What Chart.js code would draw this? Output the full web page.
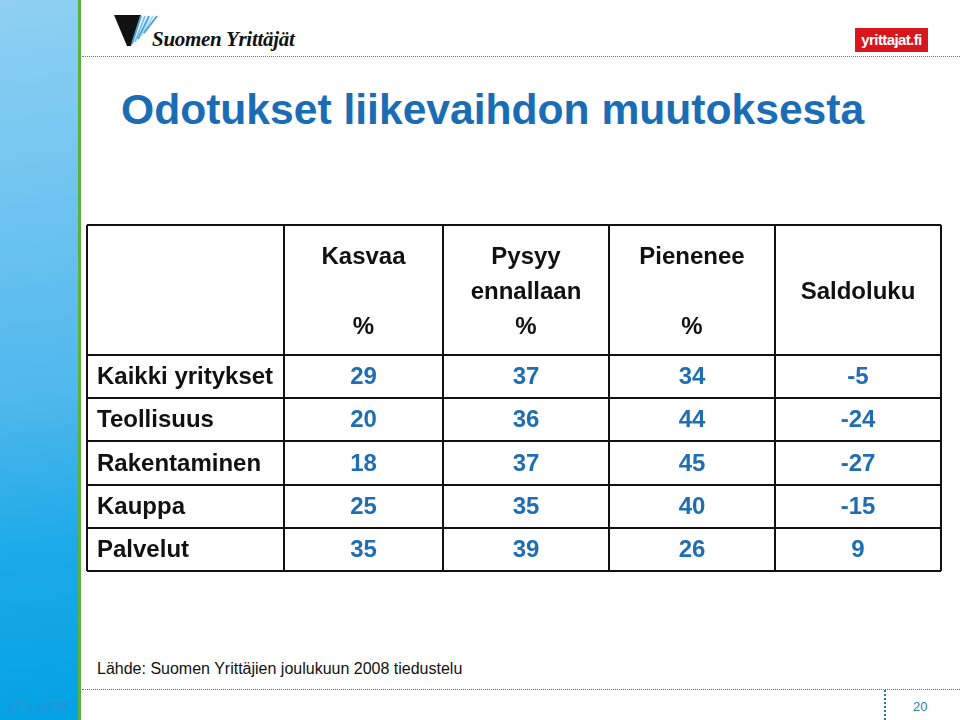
<!DOCTYPE html>
<html>
<head>
<meta charset="utf-8">
<script src="https://cdn.jsdelivr.net/npm/chart.js@4.4.1/dist/chart.umd.min.js"></script>
<style>
  html,body{margin:0;padding:0;background:#fff;}
  #slide{position:relative;width:960px;height:720px;overflow:hidden;background:#fff;font-family:"Liberation Sans",Arial,sans-serif;}
  #bar{position:absolute;left:0;top:0;width:78px;height:720px;
       background:linear-gradient(172deg,#8fd0f3 0%,#6cc3f0 30%,#4fb8ec 55%,#1eaae8 75%,#02a2e4 100%);}
  #green{position:absolute;left:78px;top:0;width:3px;height:720px;background:#5db13a;}
  .hdot{position:absolute;height:0;border-top:1px dotted #2b8db8;}
  .vdot{position:absolute;width:0;border-left:2px dotted #2f7898;}
  #title{position:absolute;left:121px;top:85px;font-size:42.6px;font-weight:bold;color:#1a6db4;white-space:nowrap;}
  #logoText{position:absolute;left:152px;top:27px;font-family:"Liberation Serif","Times New Roman",serif;font-style:italic;font-weight:bold;font-size:21px;color:#111;white-space:nowrap;letter-spacing:-0.3px;}
  #redlogo{position:absolute;left:855px;top:28px;width:73px;height:24px;background:#d9161c;color:#fff;font-weight:bold;font-size:15px;line-height:24px;text-align:center;letter-spacing:-0.6px;}
  #source{position:absolute;left:97px;top:660px;font-size:16px;color:#111;white-space:nowrap;}
  #date{position:absolute;left:9px;top:699px;font-size:13px;color:#2f8fcf;}
  #page{position:absolute;left:913px;top:699px;font-size:13px;color:#2d7fb3;}
  #chartCanvas{position:absolute;left:77px;top:215px;}
</style>
</head>
<body>
<div id="slide">
  <div id="bar"></div>
  <div id="green"></div>
  <svg style="position:absolute;left:112px;top:13px" width="46" height="36" viewBox="0 0 46 36">
    <polygon points="2,2 29,2 19,33 15,33" fill="#111"/>
    <line x1="29" y1="3" x2="20" y2="31" stroke="#4aa3d8" stroke-width="2"/>
    <line x1="33" y1="3" x2="23" y2="29" stroke="#7cc0e8" stroke-width="2"/>
    <line x1="37" y1="3" x2="26" y2="26" stroke="#4aa3d8" stroke-width="2"/>
    <line x1="41" y1="3" x2="29" y2="23" stroke="#a8d6f0" stroke-width="2"/>
    <line x1="45" y1="3" x2="32" y2="20" stroke="#4aa3d8" stroke-width="2"/>
  </svg>
  <div id="logoText">Suomen Yrittäjät</div>
  <div id="redlogo">yrittajat.fi</div>
  <div class="hdot" style="left:82px;top:56px;width:878px;"></div>
  <div id="title">Odotukset liikevaihdon muutoksesta</div>
  <canvas id="chartCanvas" width="874" height="366"></canvas>
  <div id="source">Lähde: Suomen Yrittäjien joulukuun 2008 tiedustelu</div>
  <div class="hdot" style="left:82px;top:689px;width:878px;"></div>
  <div class="vdot" style="left:884px;top:690px;height:30px;"></div>
  <div id="date">27.1.2009</div>
  <div id="page">20</div>
</div>
<script>
// ---- data ----
const rowLabels = ['Kaikki yritykset', 'Teollisuus', 'Rakentaminen', 'Kauppa', 'Palvelut'];
const columnHeaders = [['Kasvaa', '', '%'], ['Pysyy', 'ennallaan', '%'], ['Pienenee', '', '%'], ['', 'Saldoluku', '']];
const kasvaa = [29, 20, 18, 25, 35];
const pysyy = [37, 36, 37, 35, 39];
const pienenee = [34, 44, 45, 40, 26];
const saldoluku = [-5, -24, -27, -15, 9];

// ---- layout (table grid edges in scale units) ----
const colEdges = [0, 197, 356, 522, 688, 854];
const rowEdges = [0, 130, 173, 216, 260, 303, 346];
const colCenter = i => (colEdges[i] + colEdges[i + 1]) / 2;
const rowCenter = i => (rowEdges[i] + rowEdges[i + 1]) / 2;

const valueSeries = [kasvaa, pysyy, pienenee, saldoluku];
const datasets = [];
datasets.push({ kind: 'header', data: columnHeaders.map((h, c) => ({ x: colCenter(c + 1), y: rowCenter(0), t: h })) });
datasets.push({ kind: 'rowLabel', data: rowLabels.map((r, i) => ({ x: colEdges[0], y: rowCenter(i + 1), t: r })) });
valueSeries.forEach((s, c) => {
  datasets.push({ kind: 'value', data: s.map((v, i) => ({ x: colCenter(c + 1), y: rowCenter(i + 1), t: String(v) })) });
});
datasets.forEach(d => { d.pointRadius = 0; d.pointHoverRadius = 0; d.showLine = false; });

const FONT = '"Liberation Sans", Arial, sans-serif';
const tableText = {
  id: 'tableText',
  afterDatasetsDraw(chart) {
    const ctx = chart.ctx;
    ctx.save();
    chart.data.datasets.forEach((ds, di) => {
      const meta = chart.getDatasetMeta(di);
      meta.data.forEach((pt, i) => {
        const item = ds.data[i];
        ctx.font = 'bold 24px ' + FONT;
        ctx.textBaseline = 'middle';
        if (ds.kind === 'header') {
          ctx.fillStyle = '#111';
          ctx.textAlign = 'center';
          item.t.forEach((line, k) => {
            if (line) ctx.fillText(line, pt.x, pt.y + 2 + (k - 1) * 35);
          });
        } else if (ds.kind === 'rowLabel') {
          ctx.fillStyle = '#111';
          ctx.textAlign = 'left';
          ctx.fillText(item.t, pt.x + 10, pt.y + 1);
        } else {
          ctx.fillStyle = '#1f6db2';
          ctx.textAlign = 'center';
          ctx.fillText(item.t, pt.x, pt.y + 1);
        }
      });
    });
    ctx.restore();
  }
};

new Chart(document.getElementById('chartCanvas'), {
  type: 'scatter',
  data: { datasets },
  options: {
    responsive: false,
    animation: false,
    events: [],
    layout: { padding: 10 },
    plugins: { legend: { display: false }, tooltip: { enabled: false }, title: { display: false } },
    scales: {
      x: {
        type: 'linear', position: 'bottom', min: colEdges[0], max: colEdges[colEdges.length - 1],
        afterBuildTicks: s => { s.ticks = colEdges.map(v => ({ value: v })); },
        afterFit: s => { s.height = 0; },
        ticks: { display: false },
        border: { display: false },
        grid: { color: '#111', lineWidth: 2, drawTicks: false }
      },
      y: {
        type: 'linear', reverse: true, min: rowEdges[0], max: rowEdges[rowEdges.length - 1],
        afterBuildTicks: s => { s.ticks = rowEdges.map(v => ({ value: v })); },
        afterFit: s => { s.width = 0; },
        ticks: { display: false },
        border: { display: false },
        grid: { color: '#111', lineWidth: 2, drawTicks: false }
      }
    }
  },
  plugins: [tableText]
});
</script>
</body>
</html>
